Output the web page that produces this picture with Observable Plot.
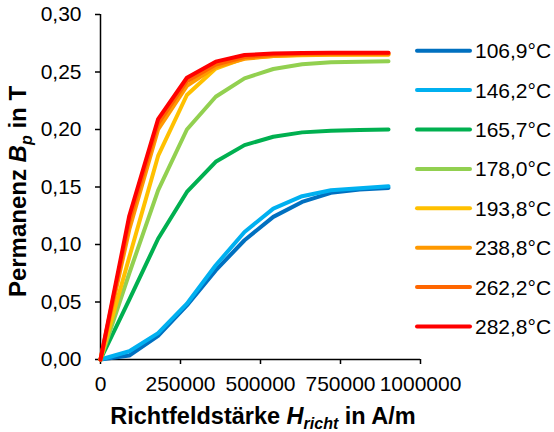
<!DOCTYPE html>
<html>
<head>
<meta charset="utf-8">
<script src="https://cdn.jsdelivr.net/npm/d3@7"></script>
<script src="https://cdn.jsdelivr.net/npm/@observablehq/plot@0.6"></script>
<style>
  html, body { margin: 0; padding: 0; background: #fff; }
  #chart { width: 554px; height: 432px; }
</style>
</head>
<body>
<div id="chart"></div>
<script>
// Field strength H (A/m)
const hValues = [0, 90000, 180000, 270000, 360000, 450000, 540000, 630000, 720000, 810000, 900000];
// Series labels and colours
const seriesLabels = ["106,9°C", "146,2°C", "165,7°C", "178,0°C", "193,8°C", "238,8°C", "262,2°C", "282,8°C"];
const seriesColors = ["#0070C0", "#00B0F0", "#00B050", "#92D050", "#FFC000", "#FF9900", "#FF6600", "#FF0000"];
// Remanence Bp (T) per series
const b1069 = [0, 0.0035, 0.0205, 0.047, 0.0775, 0.1037, 0.124, 0.137, 0.1449, 0.1478, 0.1492];
const b1462 = [0, 0.0072, 0.0229, 0.0485, 0.0819, 0.1109, 0.1312, 0.142, 0.1472, 0.149, 0.1507];
const b1657 = [0, 0.052, 0.105, 0.1457, 0.1719, 0.1864, 0.1937, 0.1975, 0.1989, 0.1995, 0.2001];
const b1780 = [0, 0.075, 0.147, 0.2, 0.2285, 0.2445, 0.2526, 0.2567, 0.2584, 0.259, 0.2593];
const b1938 = [0, 0.089, 0.177, 0.23, 0.253, 0.262, 0.264, 0.2645, 0.265, 0.265, 0.265];
const b2388 = [0, 0.113, 0.2, 0.238, 0.2545, 0.2615, 0.264, 0.265, 0.2652, 0.2654, 0.2655];
const b2622 = [0, 0.12, 0.205, 0.242, 0.2565, 0.263, 0.265, 0.2658, 0.266, 0.2661, 0.2662];
const b2828 = [0, 0.125, 0.209, 0.245, 0.259, 0.2648, 0.266, 0.2665, 0.2667, 0.2668, 0.2668];
const seriesValues = [b1069, b1462, b1657, b1780, b1938, b2388, b2622, b2828];
const yTicks = [0, 0.05, 0.10, 0.15, 0.20, 0.25, 0.30];
const xTicks = [0, 250000, 500000, 750000, 1000000];

const rows = [];
seriesValues.forEach((vals, si) => {
  vals.forEach((v, i) => rows.push({series: seriesLabels[si], h: hValues[i], b: v}));
});

const W = 554, H = 432;
const mL = 100, mR = 134, mT = 14, mB = 73;
const font = "Liberation Sans, Arial, sans-serif";

const plot = Plot.plot({
  width: W,
  height: H,
  marginLeft: mL,
  marginRight: mR,
  marginTop: mT,
  marginBottom: mB,
  style: {fontFamily: font, fontSize: "21px", color: "#000", background: "#fff", overflow: "visible"},
  x: {domain: [0, 1000000]},
  y: {domain: [0, 0.30]},
  color: {domain: seriesLabels, range: seriesColors},
  marks: [
    Plot.axisY({ticks: yTicks, tickFormat: d => d.toFixed(2).replace(".", ","), tickSize: 5, tickPadding: 14, label: null, stroke: "#000", strokeWidth: 1.5, fontSize: 21}),
    Plot.axisX({ticks: xTicks, tickFormat: d3.format("d"), tickSize: 5, tickPadding: 12, label: null, stroke: "#000", strokeWidth: 1.5, fontSize: 21}),
    Plot.ruleY([0], {stroke: "#000", strokeWidth: 1.5}),
    Plot.ruleX([0], {stroke: "#000", strokeWidth: 1.5}),
    Plot.line(rows, {x: "h", y: "b", z: "series", stroke: "series", strokeWidth: 4, strokeLinejoin: "round", strokeLinecap: "round"})
  ]
});

document.getElementById("chart").appendChild(plot);

const svg = d3.select(plot);
const xs = plot.scale("x"), ys = plot.scale("y");

// Legend
const lg = svg.append("g").attr("font-family", font).attr("font-size", 21).attr("text-anchor", "start");
const legendTop = 50.7, legendStep = 39.4;
seriesLabels.forEach((lab, i) => {
  const y = legendTop + i * legendStep;
  lg.append("line").attr("x1", 417).attr("x2", 470).attr("y1", y).attr("y2", y)
    .attr("stroke", seriesColors[i]).attr("stroke-width", 4).attr("stroke-linecap", "round");
  lg.append("text").attr("x", 475).attr("y", y).attr("dy", "0.36em").attr("text-anchor", "start").attr("fill", "#000").text(lab);
});

// X axis title
const xt = svg.append("text")
  .attr("x", (xs.range[0] + xs.range[1]) / 2 + 3)
  .attr("y", 424)
  .attr("text-anchor", "middle")
  .attr("font-family", font).attr("font-size", 23.5).attr("font-weight", "bold").attr("fill", "#000");
xt.append("tspan").text("Richtfeldstärke ");
xt.append("tspan").attr("font-style", "italic").text("H");
xt.append("tspan").attr("font-style", "italic").attr("font-size", 16).attr("dy", 5).text("richt");
xt.append("tspan").attr("dy", -5).text(" in A/m");

// Y axis title
const yc = (ys.range[0] + ys.range[1]) / 2 + 5;
const yt = svg.append("text")
  .attr("transform", `translate(26,${yc}) rotate(-90)`)
  .attr("text-anchor", "middle")
  .attr("font-family", font).attr("font-size", 24).attr("font-weight", "bold").attr("fill", "#000");
yt.append("tspan").text("Permanenz ");
yt.append("tspan").attr("font-style", "italic").text("B");
yt.append("tspan").attr("font-style", "italic").attr("font-size", 16).attr("dy", 6).text("p");
yt.append("tspan").attr("dy", -6).text(" in T");
</script>
</body>
</html>
